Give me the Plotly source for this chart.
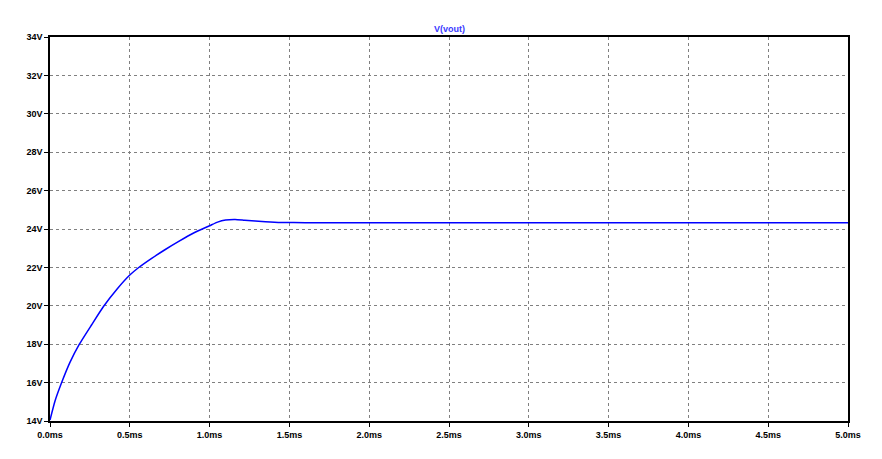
import plotly.graph_objects as go

# transient sim trace
t_ms = [0.0, 0.031, 0.073, 0.125, 0.184, 0.26, 0.334, 0.418, 0.5, 0.554, 0.637,
        0.72, 0.804, 0.9, 1.0, 1.05, 1.1, 1.16, 1.22, 1.35, 1.45, 1.6, 2.0, 3.0, 4.0, 5.0]
v_out = [14.05, 15.03, 16.0, 17.05, 18.0, 19.0, 19.95, 20.85, 21.6, 21.98, 22.47,
         22.92, 23.34, 23.79, 24.17, 24.36, 24.47, 24.5, 24.46, 24.38, 24.34, 24.33,
         24.33, 24.33, 24.33, 24.33]

y_ticks = list(range(14, 35, 2))
y_labels = [f"{v}V" for v in y_ticks]
x_ticks = [0.0, 0.5, 1.0, 1.5, 2.0, 2.5, 3.0, 3.5, 4.0, 4.5, 5.0]
x_labels = [f"{v:.1f}ms" for v in x_ticks]

fnt = dict(family="Liberation Sans", size=9, color="black", weight="bold")

fig = go.Figure()
fig.add_trace(go.Scatter(x=t_ms, y=v_out, mode="lines",
                         line=dict(color="#0000ff", width=1.5, shape="spline", smoothing=0.5),
                         name="V(vout)", showlegend=False))

# page body has an 8px margin, so shrink the figure to keep the plot box in place
fig.update_layout(width=874, height=451,
                  margin=dict(l=42, r=34, t=29, b=38),
                  paper_bgcolor="white", plot_bgcolor="white",
                  annotations=[dict(text="V(vout)", x=0.5, y=1.0, xref="paper", yref="paper",
                                    xanchor="center", yanchor="bottom", yshift=1, showarrow=False,
                                    font=dict(family="Liberation Sans", size=9, color="#3a3aff",
                                              weight="bold"))])

fig.update_xaxes(range=[0, 5], tickvals=x_ticks, ticktext=x_labels,
                 tickfont=fnt, ticks="outside", ticklen=4, tickcolor="black",
                 showline=True, linecolor="black", linewidth=1.5, mirror=True,
                 showgrid=True, gridcolor="#808080", griddash="dot", gridwidth=1,
                 zeroline=False)
fig.update_yaxes(range=[14, 34], tickvals=y_ticks, ticktext=y_labels,
                 tickfont=fnt, ticks="outside", ticklen=4, tickcolor="black",
                 showline=True, linecolor="black", linewidth=1.5, mirror=True,
                 showgrid=True, gridcolor="#808080", griddash="dot", gridwidth=1,
                 zeroline=False)

fig.write_html("out.html")
